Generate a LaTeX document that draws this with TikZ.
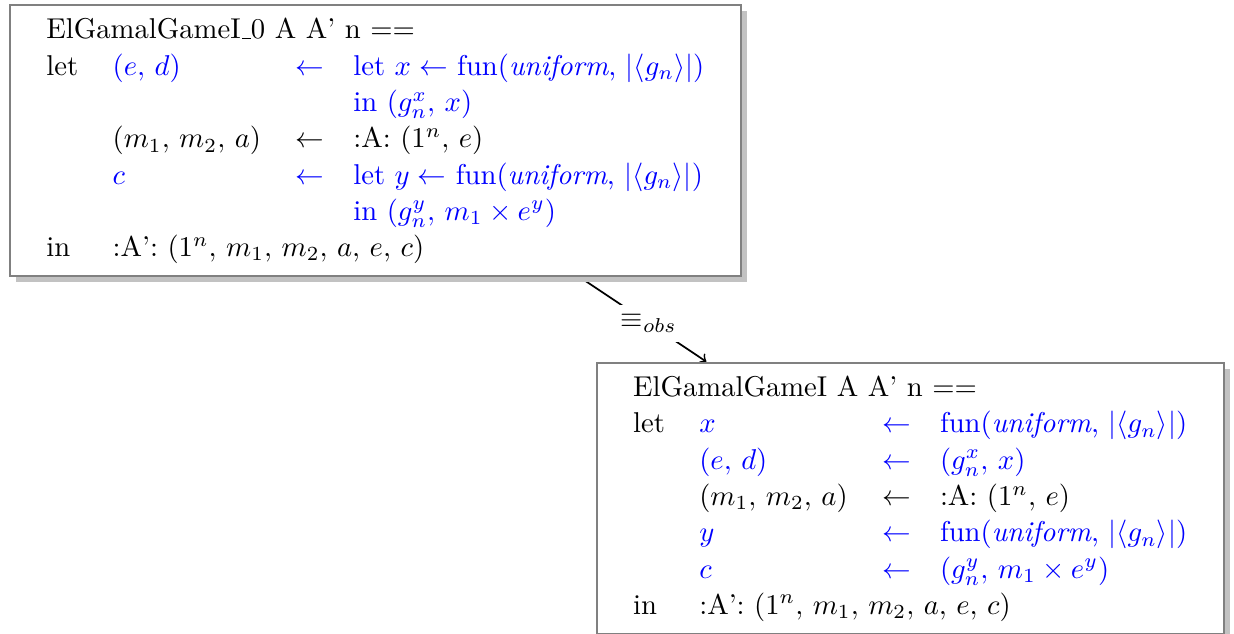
\documentclass[tikz,border=0pt]{standalone}
\usetikzlibrary{shadows}
\pgfdeclarelayer{background}
\pgfsetlayers{background,main}
\renewcommand{\arraystretch}{1.055}
\newcommand{\sep}{{,}\ }
\newcommand{\uscore}{\leavevmode\kern.06em\vbox{\hrule width.3em}}
\newcommand{\unif}{\textit{uniform}}
\begin{document}
\begin{tikzpicture}[x=0.349pt,y=-0.349pt,
  gamebox/.style={draw=black!50, line width=0.7pt, fill=white,
    drop shadow={fill=black!24, opacity=1},
    inner xsep=12.7pt, inner ysep=3pt, anchor=north west},
  obslabel/.style={fill=white, inner sep=3.33pt},
  obsline/.style={->, semithick}]
\useasboundingbox (0,0) rectangle (1234,634);
\node[gamebox] (game0) at (9,4) {\begin{tabular}{@{}llc@{\hspace{10.2pt}}l@{}}
\multicolumn{4}{@{}l@{}}{ElGamalGameI\uscore 0 A A' n ==}\\
let & \color{blue}$(e\sep d)$ & \color{blue}$\leftarrow$ & \color{blue}let $x \leftarrow$ fun(\unif, $|\langle g_n\rangle|$)\\
 & & & \color{blue}in $(g_n^x\sep x)$\\
 & $(m_1\sep m_2\sep a)$ & $\leftarrow$ & :A: $(1^n\sep e)$\\
 & \color{blue}$c$ & \color{blue}$\leftarrow$ & \color{blue}let $y \leftarrow$ fun(\unif, $|\langle g_n\rangle|$)\\
 & & & \color{blue}in $(g_n^y\sep m_1\times e^y)$\\
in & \multicolumn{3}{l@{}}{:A': $(1^n\sep m_1\sep m_2\sep a\sep e\sep c)$}
\end{tabular}};
\node[gamebox] (game1) at (595.7,361.7) {\begin{tabular}{@{}llc@{\hspace{10.2pt}}l@{}}
\multicolumn{4}{@{}l@{}}{ElGamalGameI A A' n ==}\\
let & \color{blue}$x$ & \color{blue}$\leftarrow$ & \color{blue}fun(\unif, $|\langle g_n\rangle|$)\\
 & \color{blue}$(e\sep d)$ & \color{blue}$\leftarrow$ & \color{blue}$(g_n^x\sep x)$\\
 & $(m_1\sep m_2\sep a)$ & $\leftarrow$ & :A: $(1^n\sep e)$\\
 & \color{blue}$y$ & \color{blue}$\leftarrow$ & \color{blue}fun(\unif, $|\langle g_n\rangle|$)\\
 & \color{blue}$c$ & \color{blue}$\leftarrow$ & \color{blue}$(g_n^y\sep m_1\times e^y)$\\
in & \multicolumn{3}{l@{}}{:A': $(1^n\sep m_1\sep m_2\sep a\sep e\sep c)$}
\end{tabular}};
\begin{pgfonlayer}{background}
\draw[obsline] (game0) -- node[obslabel, pos=0.545] (obs) {$\equiv_{obs}$} (game1);
\end{pgfonlayer}
\end{tikzpicture}
\end{document}
